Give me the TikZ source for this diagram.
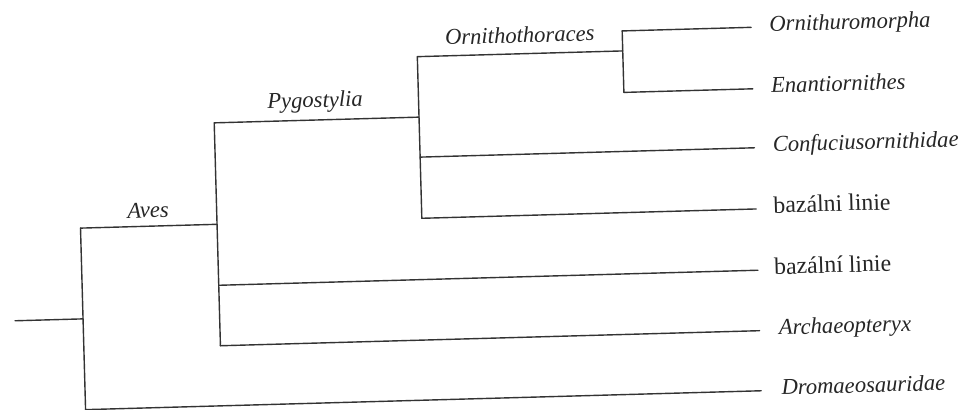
\documentclass[tikz,border=0pt]{standalone}
\usepackage{fontspec}
\setmainfont{Liberation Serif}
\begin{document}
\begin{tikzpicture}[x=0.5pt,y=-0.5pt,
  branch/.style={draw=black!80,line width=0.7pt,line cap=round},
  leaf/.style={anchor=mid west,inner sep=0pt,text=black!85,font=\fontsize{11.3}{13}\selectfont\itshape},
  leafup/.style={anchor=mid west,inner sep=0pt,text=black!85,font=\fontsize{11.9}{13}\selectfont},
  clade/.style={anchor=base,inner sep=0pt,text=black!85,font=\fontsize{11.3}{13}\selectfont\itshape}]
\useasboundingbox[fill=white] (0,0) rectangle (958,410);
\begin{scope}[rotate around={1.6:(479,205)},transform shape]
% junctions
\coordinate (rootL) at (12,307.8);
\coordinate (r) at (80,307.8);
\coordinate (a) at (216.6,217);
\coordinate (p) at (421.5,115.5);
\coordinate (o) at (627,55);
% leaf line ends
\coordinate (e1) at (756,35);
\coordinate (e2) at (756,96.5);
\coordinate (e3) at (756,155.5);
\coordinate (e4) at (756,216.7);
\coordinate (e5) at (756,278);
\coordinate (e6) at (756,338.5);
\coordinate (e7) at (756,398.6);
% leaf labels
\node[leaf] (t1) at (774,35) {Ornithuromorpha};
\node[leaf] (t2) at (774,96.5) {Enantiornithes};
\node[leaf] (t3) at (774,155.5) {Confuciusornithidae};
\node[leafup] (t4) at (773,216.7) {bazálni linie};
\node[leafup] (t5) at (772,278) {bazální linie};
\node[leaf] (t6) at (775,338.5) {Archaeopteryx};
\node[leaf] (t7) at (776,398.6) {Dromaeosauridae};
% clade labels
\node[clade] (lAves) at (148,208.5) {Aves};
\node[clade] (lPyg) at (318,103) {Pygostylia};
\node[clade] (lOrn) at (524.5,44) {Ornithothoraces};
% root
\draw[branch] (rootL) -- (r);
\draw[branch] (r |- a) -- (r |- e7);
\draw[branch] (r |- a) -- (a);
\draw[branch] (r |- e7) -- (e7);
% Aves
\draw[branch] (a |- p) -- (a |- e6);
\draw[branch] (a |- p) -- (p);
\draw[branch] (a |- e5) -- (e5);
\draw[branch] (a |- e6) -- (e6);
% Pygostylia
\draw[branch] (p |- o) -- (p |- e4);
\draw[branch] (p |- o) -- (o);
\draw[branch] (p |- e3) -- (e3);
\draw[branch] (p |- e4) -- (e4);
% Ornithothoraces
\draw[branch] (o |- e1) -- (o |- e2);
\draw[branch] (o |- e1) -- (e1);
\draw[branch] (o |- e2) -- (e2);
\end{scope}
\end{tikzpicture}
\end{document}
